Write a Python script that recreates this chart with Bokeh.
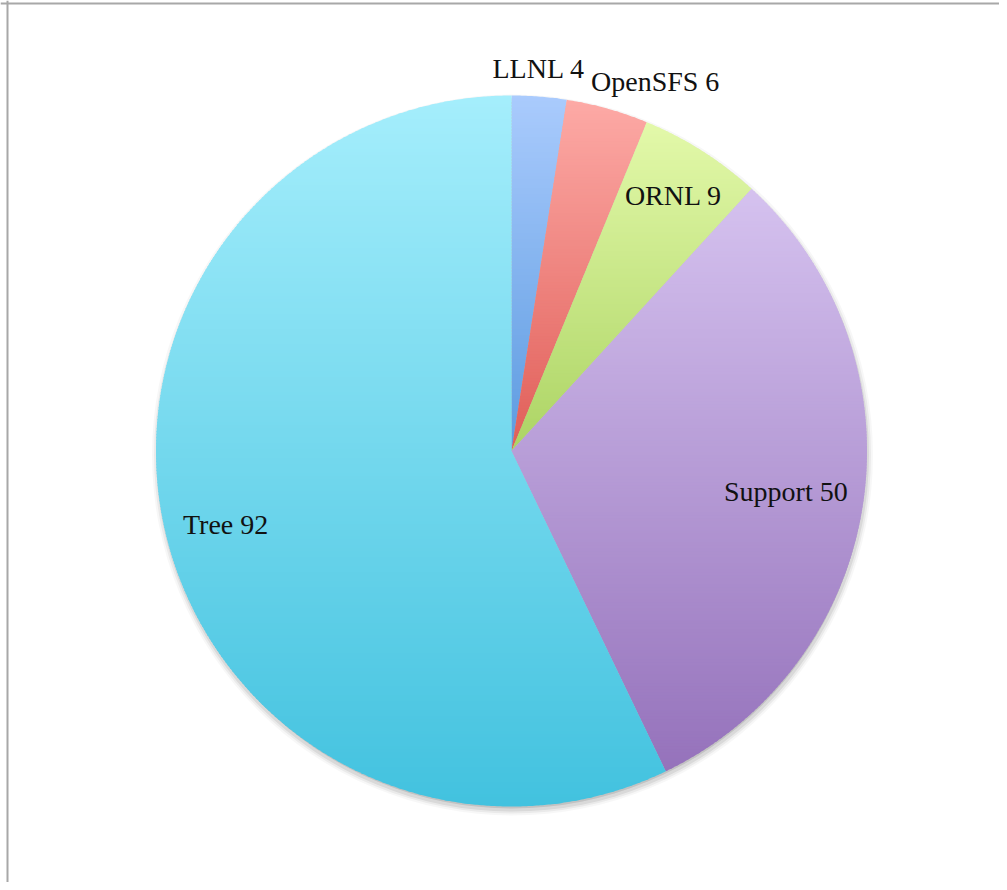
import numpy as np
from bokeh.plotting import figure
from bokeh.models import Range1d, Span
from bokeh.core.properties import value
from bokeh.embed import file_html
from bokeh.resources import INLINE

# ---- data ----
labels = ["LLNL", "OpenSFS", "ORNL", "Support", "Tree"]
counts = [4, 6, 9, 50, 92]
top_colors = ["#aacbfd", "#fdaaa6", "#e3f9aa", "#d5c2ef", "#a5eefc"]
bottom_colors = ["#5c9be0", "#e05e58", "#acd464", "#9572bb", "#42c2df"]

# label placement styling (radial fraction, angle nudge in degrees)
label_radius = [1.08, 1.115, 0.85, 0.78, 0.83]
label_nudge = [-0.4, 5.6, 0.0, 0.0, -1.5]

W, H = 999, 882
p = figure(width=W, height=H, output_backend="svg", toolbar_location=None,
           x_range=Range1d(0, W), y_range=Range1d(0, H),
           min_border=0, outline_line_color=None)
p.axis.visible = False
p.grid.visible = False
p.background_fill_color = "white"
p.border_fill_color = "white"

cx, cy, r = 511.0, H - 450.5, 355.5

# subtle drop shadow
for dr, a in [(-2, 0.10), (1, 0.07), (3, 0.05), (5, 0.03)]:
    p.circle(x=[cx + 1], y=[cy - 4], radius=r + dr, fill_color="black",
             fill_alpha=a, line_color=None)


def hex_to_rgb(h):
    h = h.lstrip("#")
    return np.array([int(h[i:i + 2], 16) for i in (0, 2, 4)], dtype=float)


def rgb_to_hex(c):
    c = np.clip(np.round(c), 0, 255).astype(int)
    return "#%02x%02x%02x" % tuple(c)


def clip_half(poly, keep, inter):
    out = []
    n = len(poly)
    for i in range(n):
        cur = poly[i]
        prev = poly[i - 1]
        if keep(cur):
            if not keep(prev):
                out.append(inter(prev, cur))
            out.append(cur)
        elif keep(prev):
            out.append(inter(prev, cur))
    return out


def y_inter(yv):
    def f(a, b):
        t = (yv - a[1]) / (b[1] - a[1])
        return (a[0] + t * (b[0] - a[0]), yv)
    return f


total = float(sum(counts))
cum = np.concatenate([[0], np.cumsum(counts)])
xs_all, ys_all, cols = [], [], []
band = 3.0
for i, cnt in enumerate(counts):
    a0 = np.pi / 2 - cum[i] / total * 2 * np.pi
    a1 = np.pi / 2 - cum[i + 1] / total * 2 * np.pi
    n = max(8, int(abs(a1 - a0) * 180))
    th = np.linspace(a0, a1, n)
    poly = [(cx, cy)] + [(cx + r * np.cos(t), cy + r * np.sin(t)) for t in th]
    ymin = min(pt[1] for pt in poly)
    ymax = max(pt[1] for pt in poly)
    ct = hex_to_rgb(top_colors[i])
    cb = hex_to_rgb(bottom_colors[i])
    y = ymax
    while y > ymin:
        lo = max(ymin, y - band)
        hi = y
        pc = clip_half(poly, lambda q, hi=hi: q[1] <= hi + 0.6, y_inter(hi + 0.6))
        if pc:
            pc = clip_half(pc, lambda q, lo=lo: q[1] >= lo - 0.6, y_inter(lo - 0.6))
        if len(pc) >= 3:
            f = (ymax - (lo + hi) / 2) / (ymax - ymin)
            col = rgb_to_hex(ct + (cb - ct) * f)
            xs_all.append([q[0] for q in pc])
            ys_all.append([q[1] for q in pc])
            cols.append(col)
        y = lo

p.patches(xs=xs_all, ys=ys_all, fill_color=cols, line_color=None)

# labels
lx, ly, lt = [], [], []
for i, cnt in enumerate(counts):
    mid = (cum[i] + cum[i + 1]) / 2 / total * 360 + label_nudge[i]
    ang = np.deg2rad(90 - mid)
    lx.append(cx + label_radius[i] * r * np.cos(ang))
    ly.append(cy + label_radius[i] * r * np.sin(ang))
    lt.append(f"{labels[i]} {cnt}")

p.text(x=lx, y=ly, text=lt, text_font=value("Liberation Serif"),
       text_font_size="28px", text_color="#111111",
       text_align="center", text_baseline="middle")

# top and left frame lines
p.add_layout(Span(location=H - 3, dimension="width", line_color="#a8a8a8", line_width=2))
p.add_layout(Span(location=7, dimension="height", line_color="#a8a8a8", line_width=2))

open("out.html", "w").write(file_html(p, INLINE))
